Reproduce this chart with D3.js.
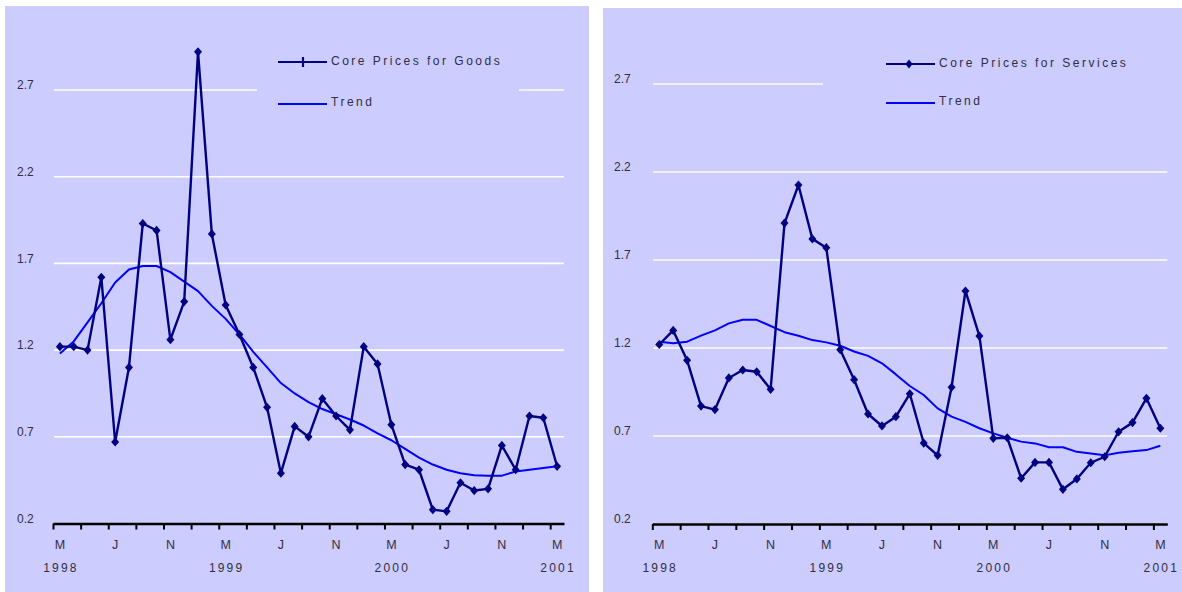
<!DOCTYPE html>
<html>
<head>
<meta charset="utf-8">
<script src="https://cdn.jsdelivr.net/npm/d3@7"></script>
<style>
  html, body { margin: 0; padding: 0; background: #ffffff; }
  svg { display: block; }
  text { font-family: "Liberation Sans", Arial, sans-serif; fill: #2f2f3f; }
</style>
</head>
<body>
<svg id="chart" width="1182" height="592"></svg>
<script>
// Monthly observations, March 1998 to March 2001
const months = [
  "1998-03","1998-04","1998-05","1998-06","1998-07","1998-08","1998-09","1998-10","1998-11","1998-12",
  "1999-01","1999-02","1999-03","1999-04","1999-05","1999-06","1999-07","1999-08","1999-09","1999-10","1999-11","1999-12",
  "2000-01","2000-02","2000-03","2000-04","2000-05","2000-06","2000-07","2000-08","2000-09","2000-10","2000-11","2000-12",
  "2001-01","2001-02","2001-03"
];

const goods = [1.22, 1.22, 1.20, 1.62, 0.67, 1.10, 1.93, 1.89, 1.26, 1.48,
               2.92, 1.87, 1.46, 1.29, 1.10, 0.87, 0.49, 0.76, 0.70, 0.92,
               0.82, 0.74, 1.22, 1.12, 0.77, 0.54, 0.51, 0.28, 0.27, 0.435,
               0.39, 0.40, 0.65, 0.51, 0.82, 0.81, 0.53];
const goodsTrend = [1.18, 1.25, 1.36, 1.47, 1.59, 1.665, 1.685, 1.685, 1.65, 1.595,
                    1.54, 1.455, 1.38, 1.29, 1.19, 1.10, 1.01, 0.95, 0.90, 0.86,
                    0.83, 0.80, 0.765, 0.72, 0.68, 0.63, 0.58, 0.54, 0.51, 0.49,
                    0.478, 0.475, 0.476, 0.50, 0.51, 0.52, 0.53];

const services = [1.22, 1.30, 1.13, 0.87, 0.85, 1.03, 1.075, 1.065, 0.965, 1.91,
                  2.126, 1.82, 1.77, 1.19, 1.02, 0.825, 0.757, 0.81, 0.94, 0.66,
                  0.59, 0.977, 1.524, 1.268, 0.687, 0.69, 0.46, 0.55, 0.55, 0.397,
                  0.456, 0.548, 0.582, 0.724, 0.776, 0.914, 0.744];
const servicesTrend = [1.236, 1.227, 1.236, 1.27, 1.30, 1.34, 1.36, 1.36, 1.325, 1.29,
                       1.27, 1.245, 1.232, 1.213, 1.18, 1.155, 1.113, 1.05, 0.984, 0.933,
                       0.857, 0.81, 0.78, 0.744, 0.715, 0.69, 0.668, 0.658, 0.636, 0.636,
                       0.61, 0.60, 0.59, 0.605, 0.613, 0.62, 0.645];

const yTicks = [0.2, 0.7, 1.2, 1.7, 2.2, 2.7];
const monthLabels = ["M", "J", "N", "M", "J", "N", "M", "J", "N", "M"];
const yearLabels = ["1998", "1999", "2000", "2001"];

const svg = d3.select("#chart");

function drawPanel(cfg) {
  const g = svg.append("g");

  g.append("rect")
    .attr("x", cfg.box[0]).attr("y", cfg.box[1])
    .attr("width", cfg.box[2]).attr("height", cfg.box[3])
    .attr("fill", "#ccccff");

  // category positions: one slot per month, point at slot centre
  const x = d3.scalePoint().domain(months).range(cfg.xr).padding(0.5);
  const xi = d3.scaleLinear().domain([-0.5, months.length - 0.5]).range(cfg.xr);
  const y = d3.scaleLinear().domain([0.2, 2.7]).range(cfg.yr);

  // white gridlines
  g.selectAll("line.grid").data(yTicks.slice(1)).join("line")
    .attr("class", "grid")
    .attr("x1", cfg.xr[0] + 1).attr("x2", cfg.xr[1])
    .attr("y1", d => y(d)).attr("y2", d => y(d))
    .attr("stroke", "#ffffff").attr("stroke-width", 1.6);

  // value labels
  g.selectAll("text.ylab").data(yTicks).join("text")
    .attr("class", "ylab")
    .attr("x", cfg.yLabelX).attr("y", d => y(d) - 4)
    .attr("dominant-baseline", "middle")
    .attr("font-size", 12)
    .text(d => d.toFixed(1));

  // legend panel sits over the gridlines
  g.append("rect")
    .attr("x", cfg.legendBox[0]).attr("y", cfg.legendBox[1])
    .attr("width", cfg.legendBox[2]).attr("height", cfg.legendBox[3])
    .attr("fill", "#ccccff");

  // x axis with ticks at every second slot boundary
  const tickIdx = d3.range(-0.5, months.length - 1, 2);
  const axis = d3.axisBottom(xi).tickValues(tickIdx).tickSize(6).tickSizeOuter(0).tickFormat("");
  const ax = g.append("g").attr("transform", `translate(0,${y(0.2)})`).call(axis);
  ax.select(".domain").attr("stroke", "#000").attr("stroke-width", 2.4);
  ax.selectAll(".tick line").attr("stroke", "#000").attr("stroke-width", 2);

  g.selectAll("text.mlab").data(monthLabels).join("text")
    .attr("class", "mlab")
    .attr("x", (d, i) => x(months[i * 4]))
    .attr("y", y(0.2) + 25)
    .attr("text-anchor", "middle")
    .attr("font-size", 12.5)
    .text(d => d);

  g.selectAll("text.yearlab").data(yearLabels).join("text")
    .attr("class", "yearlab")
    .attr("x", (d, i) => x(months[i * 12]) + 1)
    .attr("y", y(0.2) + 48)
    .attr("text-anchor", "middle")
    .attr("font-size", 12)
    .attr("letter-spacing", 2.2)
    .text(d => d);

  const line = d3.line().x((d, i) => x(months[i])).y(d => y(d));

  g.append("path").datum(cfg.trend)
    .attr("d", line)
    .attr("fill", "none").attr("stroke", "#0000ff").attr("stroke-width", 2)
    .attr("stroke-linejoin", "round");

  g.append("path").datum(cfg.series)
    .attr("d", line)
    .attr("fill", "none").attr("stroke", "#000080").attr("stroke-width", 2.4)
    .attr("stroke-linejoin", "round");

  const diamond = (cx, cy, w, h) =>
    `M${cx},${cy - h}L${cx + w},${cy}L${cx},${cy + h}L${cx - w},${cy}Z`;

  g.selectAll("path.mark").data(cfg.series).join("path")
    .attr("class", "mark")
    .attr("d", (d, i) => diamond(x(months[i]), y(d), 4, 4.6))
    .attr("fill", "#000080");

  // legend
  const lx = cfg.legend[0], ly = cfg.legend[1];
  g.append("line")
    .attr("x1", lx).attr("x2", lx + 49).attr("y1", ly).attr("y2", ly)
    .attr("stroke", "#000080").attr("stroke-width", 2.2);
  if (cfg.legendMarker === "tick") {
    g.append("line")
      .attr("x1", lx + 25).attr("x2", lx + 25).attr("y1", ly - 5).attr("y2", ly + 5)
      .attr("stroke", "#000080").attr("stroke-width", 2.2);
  } else {
    g.append("path").attr("d", diamond(lx + 23, ly, 3.6, 4.5)).attr("fill", "#000080");
  }
  g.append("text")
    .attr("x", lx + 53).attr("y", ly)
    .attr("dominant-baseline", "middle")
    .attr("font-size", 12).attr("letter-spacing", 2.5)
    .text(cfg.name);

  g.append("line")
    .attr("x1", lx).attr("x2", lx + 49).attr("y1", ly + cfg.legendGap).attr("y2", ly + cfg.legendGap)
    .attr("stroke", "#0000ff").attr("stroke-width", 2);
  g.append("text")
    .attr("x", lx + 53).attr("y", ly + cfg.legendGap - 1)
    .attr("dominant-baseline", "middle")
    .attr("font-size", 12).attr("letter-spacing", 2.5)
    .text("Trend");
}

drawPanel({
  box: [5, 6, 584, 586],
  xr: [53, 564],
  yr: [523.5, 90],
  yLabelX: 17,
  legendBox: [257, 40, 262, 80],
  legend: [278, 62],
  legendGap: 42,
  legendMarker: "tick",
  name: "Core Prices for Goods",
  series: goods,
  trend: goodsTrend
});

drawPanel({
  box: [603, 8, 579, 584],
  xr: [652.3, 1167.3],
  yr: [524, 84],
  yLabelX: 614,
  legendBox: [823, 40, 359, 80],
  legend: [886, 64],
  legendGap: 39,
  legendMarker: "diamond",
  name: "Core Prices for Services",
  series: services,
  trend: servicesTrend
});
</script>
</body>
</html>
